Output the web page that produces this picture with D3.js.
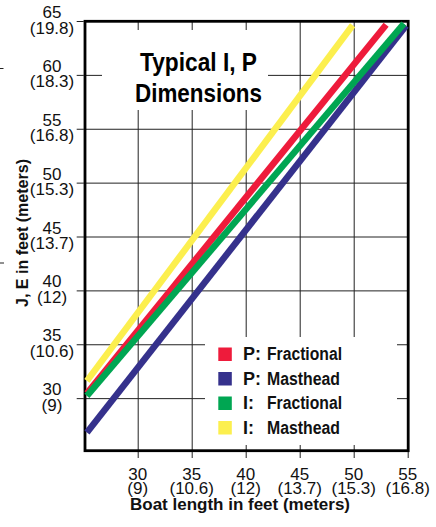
<!DOCTYPE html>
<html>
<head>
<meta charset="utf-8">
<script src="https://cdn.jsdelivr.net/npm/d3@7/dist/d3.min.js"></script>
<style>
  html, body { margin: 0; padding: 0; background: #fff; }
  svg { display: block; }
</style>
</head>
<body>
<svg id="chart" width="436" height="527"></svg>
<script>
// ---- data ----
const xTicks = [30, 35, 40, 45, 50, 55];
const xTickMeters = ["(9)", "(10.6)", "(12)", "(13.7)", "(15.3)", "(16.8)"];
const yTicks = [30, 35, 40, 45, 50, 55, 60, 65];
const yTickMeters = ["(9)", "(10.6)", "(12)", "(13.7)", "(15.3)", "(16.8)", "(18.3)", "(19.8)"];

const legendPrefix = ["P:", "P:", "I:", "I:"];
const legendNames = ["Fractional", "Masthead", "Fractional", "Masthead"];
const seriesColors = ["#ee1b3b", "#35318c", "#00a652", "#fcef4e"];

// boat length (ft) -> dimension (ft), end points of each straight line
const pFractionalBoat = [25.3, 53.0];
const pFractionalDim  = [30.45, 64.65];
const pMastheadBoat   = [25.3, 54.85];
const pMastheadDim    = [26.8, 64.55];
const iFractionalBoat = [25.3, 54.65];
const iFractionalDim  = [30.2, 64.75];
const iMastheadBoat   = [25.3, 49.9];
const iMastheadDim    = [31.6, 64.6];

const titleLines = ["Typical I, P", "Dimensions"];
const xTitle = "Boat length in feet (meters)";
const yTitle = "J, E in feet (meters)";

(function () {
// ---- layout ----
const svg = d3.select("#chart");
const x = d3.scaleLinear().domain([25, 55]).range([83.7, 407.7]);
const y = d3.scaleLinear().domain([25, 65]).range([452, 21]);
const pl = x(25), pr = x(55), pt = y(65), pb = y(25);

const font = "'Liberation Sans', Arial, Helvetica, sans-serif";
const narrow = "'Liberation Sans Narrow', 'Liberation Sans', Arial, sans-serif";

// grid lines (inside)
const gx = svg.append("g").attr("transform", `translate(0,${pb})`)
  .call(d3.axisBottom(x).tickValues(xTicks.slice(0, -1)).tickSize(-(pb - pt)).tickFormat(""));
const gy = svg.append("g").attr("transform", `translate(${pl},0)`)
  .call(d3.axisLeft(y).tickValues(yTicks.slice(0, -1)).tickSize(-(pr - pl)).tickFormat(""));
[gx, gy].forEach(g => {
  g.select(".domain").remove();
  g.selectAll("line").attr("stroke", "#222").attr("stroke-width", 1);
});

// outer ticks
const ox = svg.append("g").attr("transform", `translate(0,${pb})`)
  .call(d3.axisBottom(x).tickValues(xTicks).tickSize(6).tickFormat(""));
const oy = svg.append("g").attr("transform", `translate(${pl},0)`)
  .call(d3.axisLeft(y).tickValues(yTicks).tickSize(7).tickFormat(""));
[ox, oy].forEach(g => {
  g.select(".domain").remove();
  g.selectAll("line").attr("stroke", "#222").attr("stroke-width", 1);
});

// white boxes behind title and legend
svg.append("rect").attr("x", 102).attr("y", 30).attr("width", 166).attr("height", 80).attr("fill", "#fff");
svg.append("rect").attr("x", 205).attr("y", 337).attr("width", 192).attr("height", 108).attr("fill", "#fff");

// frame
svg.append("rect")
  .attr("x", pl + 1.3).attr("y", pt + 0.3)
  .attr("width", pr - pl - 0.8).attr("height", pb - pt - 1.6)
  .attr("fill", "none").attr("stroke", "#000").attr("stroke-width", 2.8);

// series lines
const series = [
  { boat: iMastheadBoat, dim: iMastheadDim, color: seriesColors[3] },
  { boat: pFractionalBoat, dim: pFractionalDim, color: seriesColors[0] },
  { boat: pMastheadBoat, dim: pMastheadDim, color: seriesColors[1] },
  { boat: iFractionalBoat, dim: iFractionalDim, color: seriesColors[2] }
];
const line = d3.line().x(d => x(d[0])).y(d => y(d[1]));
series.forEach(s => {
  svg.append("path")
    .attr("d", line(d3.zip(s.boat, s.dim)))
    .attr("fill", "none").attr("stroke", s.color)
    .attr("stroke-width", 6.5).attr("stroke-linecap", "butt");
});

// y tick labels (two stacked lines in one text)
const yl = svg.append("g").attr("font-family", font).attr("font-size", 17)
  .attr("text-anchor", "middle").attr("fill", "#111");
yTicks.forEach((v, i) => {
  const t = yl.append("text").attr("x", 52).attr("y", y(v) - 3);
  t.append("tspan").attr("x", 52).text(v);
  t.append("tspan").attr("x", 52).attr("dy", 15.5).text(yTickMeters[i]);
});

// x tick labels
const xl = svg.append("g").attr("font-family", font).attr("font-size", 17)
  .attr("text-anchor", "middle").attr("fill", "#111");
xTicks.forEach((v, i) => {
  const t = xl.append("text").attr("x", x(v)).attr("y", 480);
  t.append("tspan").attr("x", x(v)).text(v);
  t.append("tspan").attr("x", x(v)).attr("dy", 14).text(xTickMeters[i]);
});

// axis titles
svg.append("text").attr("x", 240).attr("y", 509.5)
  .attr("font-family", narrow).attr("font-weight", "bold").attr("font-size", 17)
  .attr("text-anchor", "middle").attr("textLength", 220).attr("lengthAdjust", "spacingAndGlyphs")
  .attr("fill", "#111").text(xTitle);
svg.append("text").attr("transform", "translate(27.5,233) rotate(-90)")
  .attr("font-family", narrow).attr("font-weight", "bold").attr("font-size", 16)
  .attr("text-anchor", "middle").attr("textLength", 148).attr("lengthAdjust", "spacingAndGlyphs")
  .attr("fill", "#111").text(yTitle);

// chart title
const tWidths = [117, 127];
titleLines.forEach((t, i) => {
  svg.append("text").attr("x", 198.5).attr("y", 71 + i * 30.5)
    .attr("font-family", narrow).attr("font-weight", "bold").attr("font-size", 26)
    .attr("text-anchor", "middle").attr("textLength", tWidths[i]).attr("lengthAdjust", "spacingAndGlyphs")
    .attr("fill", "#000").text(t);
});

// legend
const lg = svg.append("g");
legendNames.forEach((n, i) => {
  const by = 360 + i * 24.5;
  lg.append("rect").attr("x", 218.3).attr("y", by - 12.5).attr("width", 13.5).attr("height", 13.5)
    .attr("fill", seriesColors[i]);
  lg.append("text").attr("x", 243).attr("y", by)
    .attr("font-family", narrow).attr("font-weight", "bold").attr("font-size", 18)
    .attr("fill", "#111").text(legendPrefix[i]);
  lg.append("text").attr("x", 267).attr("y", by)
    .attr("font-family", narrow).attr("font-weight", "bold").attr("font-size", 18)
    .attr("textLength", n === "Fractional" ? 75 : 73).attr("lengthAdjust", "spacingAndGlyphs")
    .attr("fill", "#111").text(n);
});

// stray marks at the left edge of the original picture
svg.append("line").attr("x1", 0).attr("x2", 3.5).attr("y1", 68.5).attr("y2", 68.5).attr("stroke", "#222");
svg.append("line").attr("x1", 0).attr("x2", 4).attr("y1", 263).attr("y2", 263).attr("stroke", "#222");
})();
</script>
</body>
</html>
